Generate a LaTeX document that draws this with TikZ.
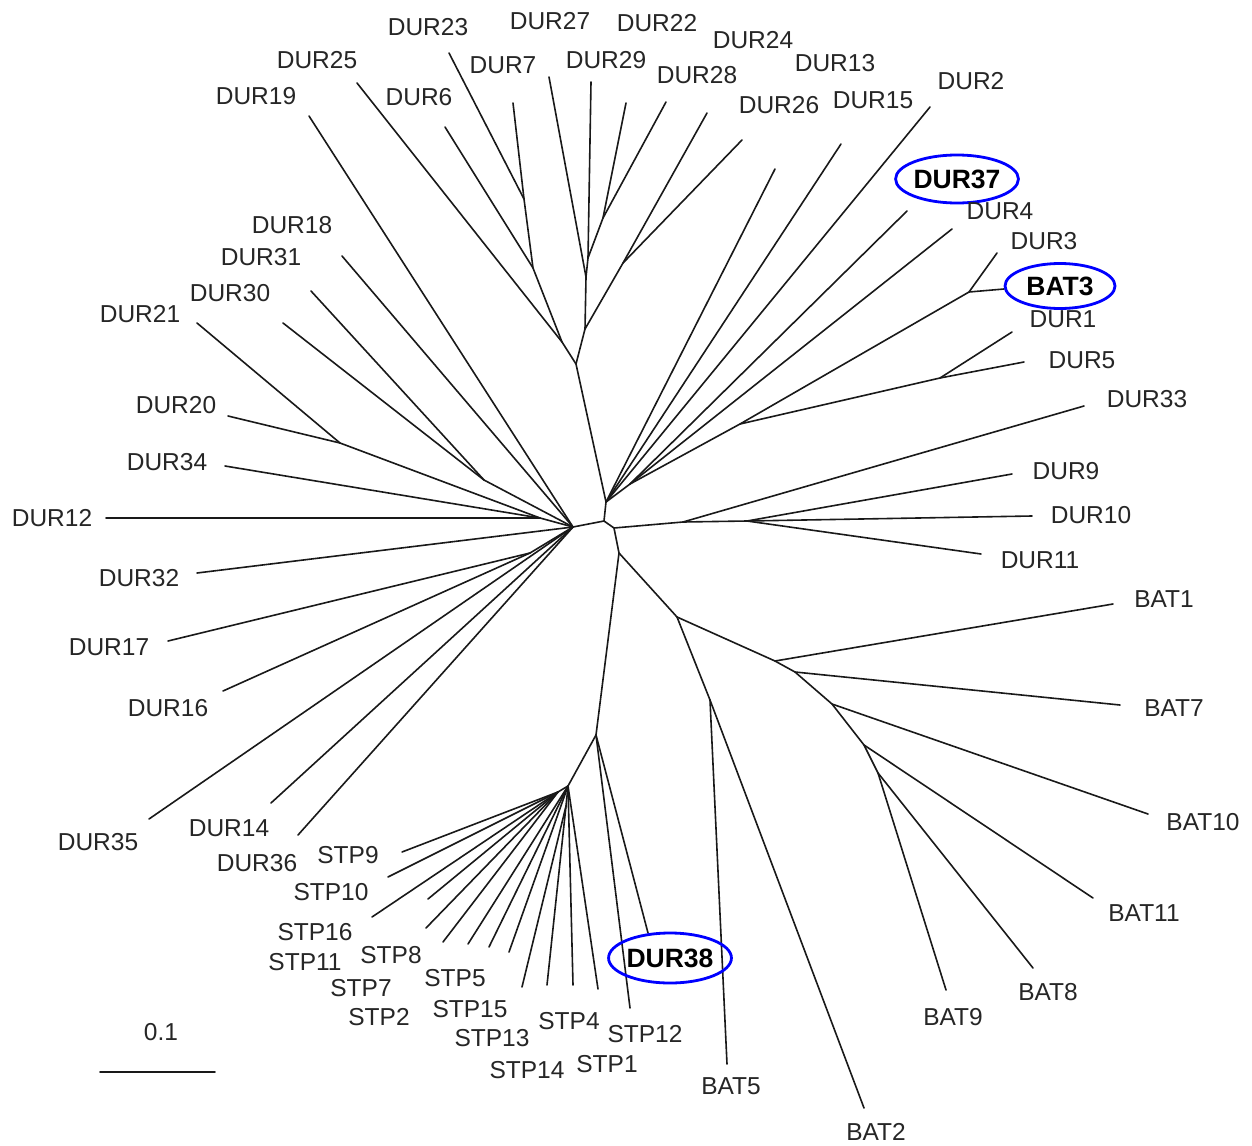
\documentclass[tikz,border=0pt]{standalone}
\usepackage{fontspec}
\setmainfont{Liberation Sans}
\usetikzlibrary{shapes.geometric}
\begin{document}
\begin{tikzpicture}[x=1pt,y=-1pt,
  br/.style={line width=1.6pt, draw=black!90, line cap=round, line join=round},
  lbl/.style={inner sep=0pt, text=black!85, font=\fontsize{24.5}{29}\selectfont},
  hlbl/.style={ellipse, draw=blue, line width=2.8pt, inner sep=0pt, text=black,
    font=\fontsize{26.5}{31}\selectfont\bfseries}]
\fill[white] (0,0) rectangle (1252,1145);
\useasboundingbox (0,0) rectangle (1252,1145);
% ---------- internal nodes ----------
\coordinate (A) at (573,527);
\coordinate (B) at (604,521);
\coordinate (C) at (606,502);
\coordinate (D) at (614,528);
\coordinate (E) at (619,553);
\coordinate (F) at (677,617);
\coordinate (G) at (710,700);
\coordinate (H1) at (775,661);
\coordinate (H2) at (795,672);
\coordinate (H3) at (832,704);
\coordinate (H4) at (864,745);
\coordinate (H5) at (878,773);
\coordinate (S0) at (596,735);
\coordinate (S1) at (568,786);
\coordinate (S2) at (558,792);
\coordinate (S3) at (566,806);
\coordinate (T1) at (576,364);
\coordinate (N3) at (562,342);
\coordinate (N2) at (533,268);
\coordinate (N1) at (524,199);
\coordinate (M1) at (585,329);
\coordinate (M2) at (586,277);
\coordinate (M5) at (588,258);
\coordinate (M4) at (603,218);
\coordinate (M3) at (623,263);
\coordinate (U) at (630,484);
\coordinate (V1) at (740,424);
\coordinate (W1) at (969,292);
\coordinate (W2) at (940,378);
\coordinate (R1) at (683,522);
\coordinate (R2) at (747,521);
\coordinate (Ls) at (540,518);
\coordinate (Q) at (340,443);
\coordinate (K) at (484,480);
\coordinate (P) at (530,553);
% ---------- leaf ends ----------
\coordinate (eDUR23) at (449,53);
\coordinate (eDUR7) at (513,103);
\coordinate (eDUR6) at (445,127);
\coordinate (eDUR25) at (357,83);
\coordinate (eDUR19) at (309,116);
\coordinate (eDUR27) at (549,77);
\coordinate (eDUR29) at (591,82);
\coordinate (eDUR22) at (626,103);
\coordinate (eDUR28) at (666,102);
\coordinate (eDUR24) at (707,113);
\coordinate (eDUR13) at (742,140);
\coordinate (eDUR26) at (775,169);
\coordinate (eDUR15) at (841,144);
\coordinate (eDUR2) at (930,107);
\coordinate (eDUR37) at (907,211);
\coordinate (eDUR4) at (952,229);
\coordinate (eDUR3) at (997,253);
\coordinate (eBAT3) at (1004,289);
\coordinate (eDUR1) at (1012,332);
\coordinate (eDUR5) at (1024,362);
\coordinate (eDUR33) at (1084,406);
\coordinate (eDUR9) at (1012,474);
\coordinate (eDUR10) at (1032,516);
\coordinate (eDUR11) at (981,554);
\coordinate (eBAT1) at (1113,604);
\coordinate (eBAT7) at (1120,705);
\coordinate (eBAT10) at (1148,814);
\coordinate (eBAT11) at (1093,898);
\coordinate (eBAT8) at (1033,968);
\coordinate (eBAT9) at (946,990);
\coordinate (eBAT2) at (864,1108);
\coordinate (eBAT5) at (727,1064);
\coordinate (eDUR38) at (648,933);
\coordinate (eSTP12) at (630,1008);
\coordinate (eSTP1) at (598,989);
\coordinate (eSTP4) at (573,985);
\coordinate (eSTP14) at (547,985);
\coordinate (eSTP13) at (522,987);
\coordinate (eSTP15) at (509,952);
\coordinate (eSTP5) at (489,947);
\coordinate (eSTP2) at (468,944);
\coordinate (eSTP7) at (443,942);
\coordinate (eSTP8) at (426,928);
\coordinate (eSTP11) at (428,899);
\coordinate (eSTP16) at (372,917);
\coordinate (eSTP10) at (388,877);
\coordinate (eSTP9) at (402,852);
\coordinate (eDUR36) at (298,835);
\coordinate (eDUR14) at (271,803);
\coordinate (eDUR35) at (149,819);
\coordinate (eDUR16) at (223,691);
\coordinate (eDUR17) at (168,641);
\coordinate (eDUR32) at (197,573);
\coordinate (eDUR12) at (106,518);
\coordinate (eDUR34) at (225,466);
\coordinate (eDUR20) at (228,416);
\coordinate (eDUR21) at (197,323);
\coordinate (eDUR30) at (283,323);
\coordinate (eDUR31) at (311,291);
\coordinate (eDUR18) at (342,256);
% ---------- branches ----------
\draw[br] (A) -- (B) -- (C);
\draw[br] (B) -- (D) -- (E) -- (F);
\draw[br] (E) -- (S0);
% top cluster
\draw[br] (C) -- (T1) -- (N3) -- (N2) -- (N1) -- (eDUR23);
\draw[br] (N1) -- (eDUR7);
\draw[br] (N2) -- (eDUR6);
\draw[br] (N3) -- (eDUR25);
\draw[br] (T1) -- (M1) -- (M2) -- (M5) -- (M4) -- (eDUR22);
\draw[br] (M4) -- (eDUR28);
\draw[br] (M5) -- (eDUR29);
\draw[br] (M2) -- (eDUR27);
\draw[br] (M1) -- (M3) -- (eDUR24);
\draw[br] (M3) -- (eDUR13);
% upper right fan
\draw[br] (C) -- (eDUR26);
\draw[br] (C) -- (eDUR15);
\draw[br] (C) -- (eDUR2);
\draw[br] (C) -- (U) -- (eDUR37);
\draw[br] (U) -- (eDUR4);
\draw[br] (U) -- (V1) -- (W1) -- (eDUR3);
\draw[br] (W1) -- (eBAT3);
\draw[br] (V1) -- (W2) -- (eDUR1);
\draw[br] (W2) -- (eDUR5);
% right cluster
\draw[br] (D) -- (R1) -- (R2) -- (eDUR10);
\draw[br] (R1) -- (eDUR33);
\draw[br] (R2) -- (eDUR9);
\draw[br] (R2) -- (eDUR11);
% BAT cluster
\draw[br] (F) -- (H1) -- (H2) -- (H3) -- (H4) -- (H5) -- (eBAT9);
\draw[br] (H1) -- (eBAT1);
\draw[br] (H2) -- (eBAT7);
\draw[br] (H3) -- (eBAT10);
\draw[br] (H4) -- (eBAT11);
\draw[br] (H5) -- (eBAT8);
\draw[br] (F) -- (G) -- (eBAT5);
\draw[br] (G) -- (eBAT2);
% STP cluster
\draw[br] (S0) -- (eDUR38);
\draw[br] (S0) -- (eSTP12);
\draw[br] (S0) -- (S1);
\draw[br] (S1) -- (S2);
\draw[br] (S1) -- (S3);
\foreach \t in {STP1,STP4,STP15,STP5,STP2}
  \draw[br] (S1) -- (e\t);
\foreach \t in {STP14,STP13}
  \draw[br] (S3) -- (e\t);
\foreach \t in {STP7,STP8,STP11,STP16,STP10,STP9}
  \draw[br] (S2) -- (e\t);
% left fan
\draw[br] (A) -- (eDUR19);
\draw[br] (A) -- (eDUR18);
\draw[br] (A) -- (K) -- (eDUR31);
\draw[br] (K) -- (eDUR30);
\draw[br] (A) -- (Ls) -- (eDUR12);
\draw[br] (Ls) -- (eDUR34);
\draw[br] (Ls) -- (Q) -- (eDUR21);
\draw[br] (Q) -- (eDUR20);
\draw[br] (A) -- (eDUR32);
\draw[br] (A) -- (P) -- (eDUR17);
\draw[br] (P) -- (eDUR16);
\draw[br] (A) -- (eDUR35);
\draw[br] (A) -- (eDUR14);
\draw[br] (A) -- (eDUR36);
% ---------- labels ----------
\node[lbl] (lDUR23) at (428,27) {DUR23};
\node[lbl] (lDUR27) at (550,21) {DUR27};
\node[lbl] (lDUR22) at (657,23) {DUR22};
\node[lbl] (lDUR24) at (753,40) {DUR24};
\node[lbl] (lDUR13) at (835,63) {DUR13};
\node[lbl] (lDUR2) at (971,81) {DUR2};
\node[lbl] (lDUR7) at (503,65) {DUR7};
\node[lbl] (lDUR29) at (606,60) {DUR29};
\node[lbl] (lDUR28) at (697,75) {DUR28};
\node[lbl] (lDUR25) at (317,60) {DUR25};
\node[lbl] (lDUR19) at (256,96) {DUR19};
\node[lbl] (lDUR6) at (419,97) {DUR6};
\node[lbl] (lDUR26) at (779,105) {DUR26};
\node[lbl] (lDUR15) at (873,100) {DUR15};
\node[hlbl, minimum width=122pt, minimum height=48pt] (lDUR37) at (957,179) {DUR37};
\node[lbl] (lDUR4) at (1000,211) {DUR4};
\node[lbl] (lDUR3) at (1044,241) {DUR3};
\node[hlbl, minimum width=110pt, minimum height=45pt] (lBAT3) at (1060,286) {BAT3};
\node[lbl] (lDUR1) at (1063,319) {DUR1};
\node[lbl] (lDUR5) at (1082,360) {DUR5};
\node[lbl] (lDUR33) at (1147,399) {DUR33};
\node[lbl] (lDUR9) at (1066,471) {DUR9};
\node[lbl] (lDUR10) at (1091,515) {DUR10};
\node[lbl] (lDUR11) at (1040,560) {DUR11};
\node[lbl] (lBAT1) at (1164,599) {BAT1};
\node[lbl] (lBAT7) at (1174,708) {BAT7};
\node[lbl] (lBAT10) at (1203,822) {BAT10};
\node[lbl] (lBAT11) at (1144,913) {BAT11};
\node[lbl] (lBAT8) at (1048,992) {BAT8};
\node[lbl] (lBAT9) at (953,1017) {BAT9};
\node[lbl] (lBAT2) at (876,1132) {BAT2};
\node[lbl] (lBAT5) at (731,1086) {BAT5};
\node[hlbl, minimum width=122pt, minimum height=50pt] (lDUR38) at (670,958) {DUR38};
\node[lbl] (lSTP12) at (645,1034) {STP12};
\node[lbl] (lSTP1) at (607,1064) {STP1};
\node[lbl] (lSTP4) at (569,1021) {STP4};
\node[lbl] (lSTP14) at (527,1070) {STP14};
\node[lbl] (lSTP13) at (492,1038) {STP13};
\node[lbl] (lSTP15) at (470,1009) {STP15};
\node[lbl] (lSTP5) at (455,978) {STP5};
\node[lbl] (lSTP8) at (391,955) {STP8};
\node[lbl] (lSTP2) at (379,1017) {STP2};
\node[lbl] (lSTP7) at (361,988) {STP7};
\node[lbl] (lSTP11) at (305,962) {STP11};
\node[lbl] (lSTP16) at (315,932) {STP16};
\node[lbl] (lSTP10) at (331,892) {STP10};
\node[lbl] (lSTP9) at (348,855) {STP9};
\node[lbl] (lDUR36) at (257,863) {DUR36};
\node[lbl] (lDUR14) at (229,828) {DUR14};
\node[lbl] (lDUR35) at (98,842) {DUR35};
\node[lbl] (lDUR16) at (168,708) {DUR16};
\node[lbl] (lDUR17) at (109,647) {DUR17};
\node[lbl] (lDUR32) at (139,578) {DUR32};
\node[lbl] (lDUR12) at (52,518) {DUR12};
\node[lbl] (lDUR34) at (167,462) {DUR34};
\node[lbl] (lDUR20) at (176,405) {DUR20};
\node[lbl] (lDUR21) at (140,314) {DUR21};
\node[lbl] (lDUR30) at (230,293) {DUR30};
\node[lbl] (lDUR31) at (261,257) {DUR31};
\node[lbl] (lDUR18) at (292,225) {DUR18};
% ---------- scale bar ----------
\coordinate (sbL) at (100,1072);
\coordinate (sbR) at (215,1072);
\draw[br] (sbL) -- (sbR);
\node[lbl] (lscale) at (161,1032) {0.1};
\end{tikzpicture}
\end{document}
